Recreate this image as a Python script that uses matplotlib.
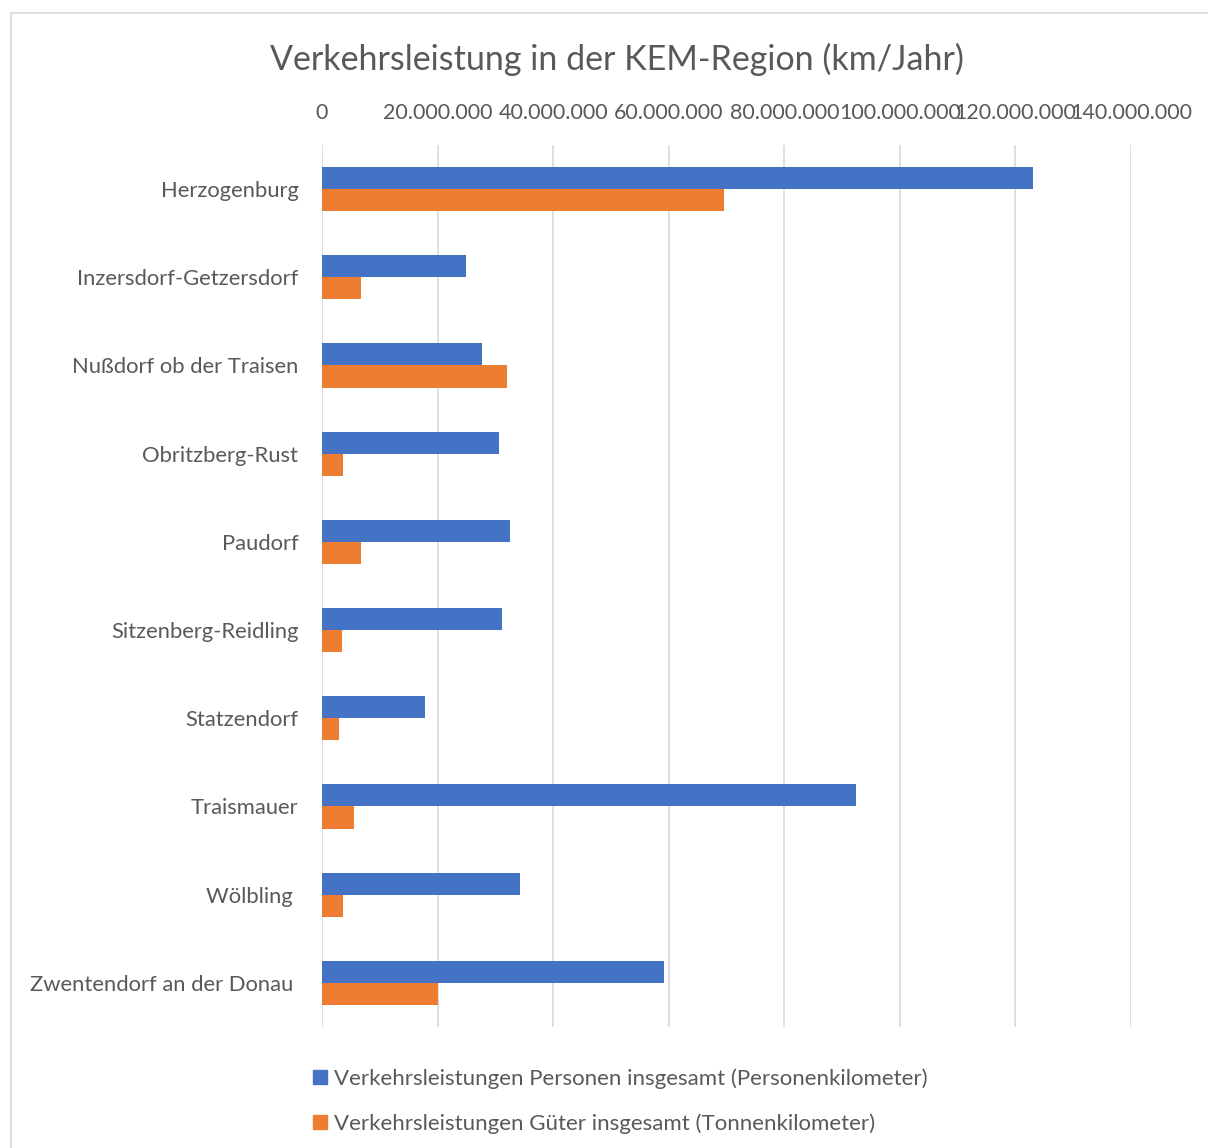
import matplotlib
matplotlib.use('Agg')
import matplotlib.pyplot as plt
import matplotlib.patches as mpatches
from matplotlib.lines import Line2D
from matplotlib.ticker import FuncFormatter, MultipleLocator
import numpy as np

plt.rcParams['font.family'] = ['Lato', 'DejaVu Sans']

gemeinden = ['Herzogenburg', 'Inzersdorf-Getzersdorf', 'Nußdorf ob der Traisen',
             'Obritzberg-Rust', 'Paudorf', 'Sitzenberg-Reidling', 'Statzendorf',
             'Traismauer', 'Wölbling ', 'Zwentendorf an der Donau ']
personen_km = [123.0e6, 24.9e6, 27.7e6, 30.6e6, 32.5e6, 31.1e6, 17.8e6,
               92.4e6, 34.3e6, 59.2e6]
tonnen_km = [69.6e6, 6.7e6, 32.0e6, 3.6e6, 6.7e6, 3.5e6, 2.9e6,
             5.5e6, 3.6e6, 20.1e6]
serien = ['Verkehrsleistungen Personen insgesamt (Personenkilometer)',
          'Verkehrsleistungen Güter insgesamt (Tonnenkilometer)']

BLAU = '#4472C4'
ORANGE = '#ED7D31'
GRAU = '#595959'

W, H = 1208, 1148
fig = plt.figure(figsize=(W / 100, H / 100), dpi=100)

# Rahmen des Diagrammbereichs
fig.add_artist(Line2D([11 / W, 1], [1 - 13 / H, 1 - 13 / H], color='#d9d9d9', lw=1.2))
fig.add_artist(Line2D([11 / W, 11 / W], [0, 1 - 13 / H], color='#d9d9d9', lw=1.2))

ax = fig.add_axes([322 / W, 1 - 1027 / H, (1131 - 322) / W, (1027 - 145) / H])

y = np.arange(len(gemeinden))
h = 0.25
ax.barh(y - h / 2, personen_km, height=h, color=BLAU, label=serien[0])
ax.barh(y + h / 2, tonnen_km, height=h, color=ORANGE, label=serien[1])

ax.set_ylim(len(gemeinden) - 0.5, -0.5)
ax.set_xlim(0, 140e6)
ax.xaxis.set_major_locator(MultipleLocator(20e6))
ax.xaxis.set_major_formatter(FuncFormatter(lambda v, p: f'{int(round(v)):,}'.replace(',', '.')))
ax.xaxis.tick_top()
ax.set_yticks(y)
ax.set_yticklabels(gemeinden)
ax.tick_params(axis='x', length=0, pad=16, labelsize=15.5, colors=GRAU)
ax.tick_params(axis='y', length=0, pad=17, labelsize=15.8, colors=GRAU)
ax.grid(axis='x', color='#d9d9d9', lw=1.2)
ax.set_axisbelow(True)
for s in ax.spines.values():
    s.set_visible(False)

fig.text(617 / W, 1 - 59 / H, 'Verkehrsleistung in der KEM-Region (km/Jahr)',
         ha='center', va='center', fontsize=24.5, color=GRAU)

handles = [mpatches.Patch(color=BLAU), mpatches.Patch(color=ORANGE)]
fig.legend(handles, serien, loc='center left', bbox_to_anchor=(293 / W, 1 - 1101 / H),
           frameon=False, fontsize=16.0, labelcolor=GRAU, handlelength=0.65,
           handleheight=0.65, handletextpad=0.3, labelspacing=1.1)

fig.savefig('out.png', dpi=100)
